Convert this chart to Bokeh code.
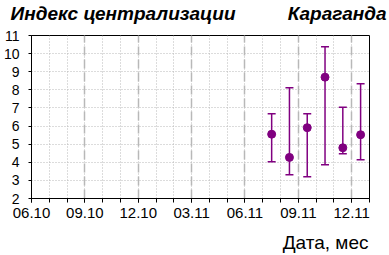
from bokeh.plotting import figure
from bokeh.models import (ColumnDataSource, Whisker, TeeHead, FixedTicker, Range1d)
from bokeh.layouts import column
from bokeh.core.properties import value
from bokeh.embed import file_html
from bokeh.resources import INLINE

# ---- data ----
title_left = "Индекс централизации"
title_right = "Караганда"
x_title = "Дата, мес"
tick_labels = ["06.10", "09.10", "12.10", "03.11", "06.11", "09.11", "12.11"]
months = ["07.11", "08.11", "09.11", "10.11", "11.11", "12.11"]
values = [5.55, 4.27, 5.91, 8.70, 4.80, 5.52]
upper = [6.68, 8.12, 6.68, 10.38, 7.04, 8.34]
lower = [4.03, 3.31, 3.20, 3.86, 4.47, 4.14]

def month_index(s):
    m, y = s.split(".")
    return (int(y) - 10) * 12 + int(m) - 6

x_pos = [month_index(m) + 0.5 for m in months]
tick_pos = [month_index(t) for t in tick_labels]

FONT = "Liberation Sans"
PURPLE = "#800080"
GRID = "#b8b8b8"


def strip(h):
    s = figure(width=389, height=h, output_backend="svg", toolbar_location=None,
               x_range=Range1d(0, 389), y_range=Range1d(h, 0),
               min_border=0, min_border_left=0, min_border_right=0,
               min_border_top=0, min_border_bottom=0)
    s.frame_align = False
    s.axis.visible = False
    s.grid.visible = False
    s.outline_line_color = None
    s.background_fill_color = "white"
    s.border_fill_color = "white"
    return s

# ---- title strip ----
top = strip(25)
top.text(x=[10], y=[13.0], text=[title_left], text_font=value(FONT), text_font_size="19px",
         text_font_style="bold italic", text_color="black", text_baseline="middle",
         text_align="left")
top.text(x=[386], y=[13.0], text=[title_right], text_font=value(FONT), text_font_size="19px",
         text_font_style="bold italic", text_color="black", text_baseline="middle",
         text_align="right")

# ---- main plot ----
p = figure(width=389, height=203, output_backend="svg", toolbar_location=None,
           x_range=Range1d(0, 19), y_range=Range1d(2, 11),
           min_border_left=30, min_border_right=20, min_border_top=10, min_border_bottom=30)
p.frame_align = False
p.background_fill_color = "white"
p.border_fill_color = "white"
p.outline_line_color = "black"
p.outline_line_width = 1

# x axis
p.xaxis.ticker = FixedTicker(ticks=tick_pos, minor_ticks=list(range(0, 20)))
p.xaxis.major_label_overrides = {t: l for t, l in zip(tick_pos, tick_labels)}
p.xaxis.major_label_text_font = FONT
p.xaxis.major_label_text_font_size = "15px"
p.xaxis.major_label_text_color = "black"
p.xaxis.major_label_standoff = 5
p.xaxis.major_tick_in = 0
p.xaxis.major_tick_out = 4
p.xaxis.minor_tick_in = 0
p.xaxis.minor_tick_out = 4
p.xaxis.axis_line_color = "black"
p.xaxis.major_tick_line_color = "black"
p.xaxis.minor_tick_line_color = "black"

# y axis
p.yaxis.ticker = FixedTicker(ticks=list(range(2, 12)))
p.yaxis.major_label_text_font = FONT
p.yaxis.major_label_text_font_size = "14px"
p.yaxis.major_label_text_color = "black"
p.yaxis.major_label_standoff = 9
p.yaxis.major_tick_in = 0
p.yaxis.major_tick_out = 3
p.yaxis.minor_tick_line_color = None
p.yaxis.axis_line_color = "black"
p.yaxis.major_tick_line_color = "black"

# grids
p.xgrid.grid_line_color = GRID
p.xgrid.grid_line_width = 1.5
p.xgrid.grid_line_dash = "9 4"
p.xgrid.minor_grid_line_color = GRID
p.xgrid.minor_grid_line_dash = "1 2"
p.xgrid.minor_grid_line_width = 1
p.ygrid.grid_line_color = GRID
p.ygrid.grid_line_dash = "1 2"
p.ygrid.grid_line_width = 1

src = ColumnDataSource(dict(x=x_pos, y=values, upper=upper, lower=lower))

w = Whisker(source=src, base="x", upper="upper", lower="lower", dimension="height",
            line_color=PURPLE, line_width=1.5,
            upper_head=TeeHead(size=8, line_color=PURPLE, line_width=1.5),
            lower_head=TeeHead(size=8, line_color=PURPLE, line_width=1.5))
p.add_layout(w)
p.scatter("x", "y", source=src, size=8, color=PURPLE, marker="circle")

# ---- x-axis title strip ----
bottom = strip(27)
bottom.text(x=[368], y=[14.0], text=[x_title], text_font=value(FONT), text_font_size="19px",
            text_color="black", text_baseline="middle", text_align="right")

layout = column(top, p, bottom, spacing=0)
open("out.html", "w").write(file_html(layout, INLINE))
